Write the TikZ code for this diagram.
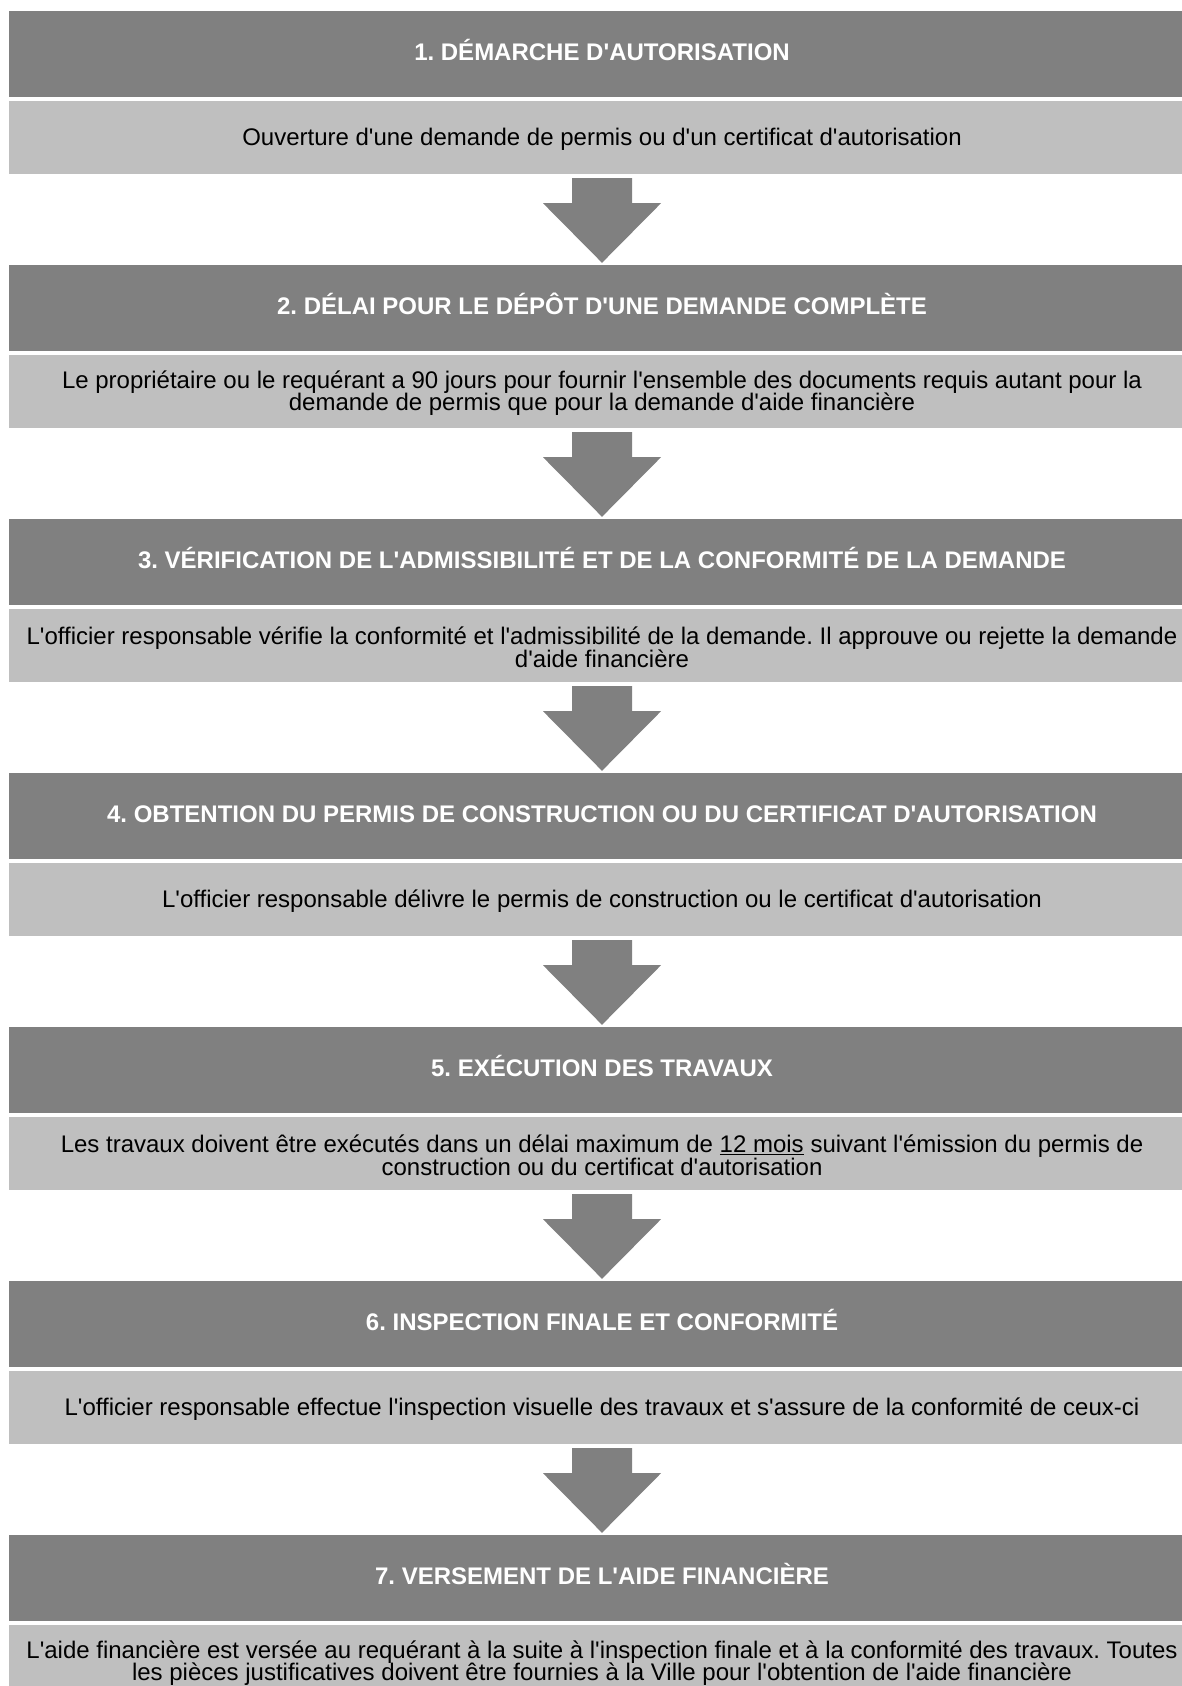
\documentclass[tikz,border=0pt]{standalone}
\usepackage{fontspec}
\setmainfont{Liberation Sans}[Ligatures=TeXOff]
\frenchspacing
\usetikzlibrary{calc}
\definecolor{hdrgray}{RGB}{128,128,128}
\definecolor{subgray}{RGB}{191,191,191}
\newcommand\hs{\rule{0pt}{21pt}}
\tikzset{
  hdr/.style={fill=hdrgray, draw=none, minimum width=1186pt, minimum height=86pt,
    inner sep=0pt, text=white, font=\fontsize{24}{23}\selectfont\bfseries,
    text height=17.2pt, text depth=4pt},
  sub/.style={fill=subgray, draw=none, minimum width=1186pt, minimum height=73pt,
    inner sep=0pt, text=black, align=center, font=\fontsize{24}{22.8}\selectfont},
  blockarrow/.style={fill=hdrgray, draw=none}
}
\newcommand\mkarrow[2]{%
  \fill[blockarrow] ($(#1.south)+(-30,4)$) -- ($(#1.south)+(30,4)$) -- ($(#1.south)+(30,29)$)
    -- ($(#1.south)+(59,29)$) -- ($(#2.north)+(0,-2)$) -- ($(#1.south)+(-59,29)$)
    -- ($(#1.south)+(-30,29)$) -- cycle;}
\begin{document}
\begin{tikzpicture}[x=1pt,y=-1pt]
\useasboundingbox[fill=white] (0,0) rectangle (1182,1686);
% block 1
\node[hdr] (h1) at (602,54) {1. DÉMARCHE D'AUTORISATION};
\node[sub] (s1) at (602,137.5) {\hs Ouverture d'une demande de permis ou d'un certificat d'autorisation};
% block 2
\node[hdr] (h2) at (602,308) {2. DÉLAI POUR LE DÉPÔT D'UNE DEMANDE COMPLÈTE};
\node[sub] (s2) at (602,391.5) {\hs Le propriétaire ou le requérant a 90 jours pour fournir l'ensemble des documents requis autant pour la\\demande de permis que pour la demande d'aide financière};
% block 3
\node[hdr] (h3) at (602,562) {3. VÉRIFICATION DE L'ADMISSIBILITÉ ET DE LA CONFORMITÉ DE LA DEMANDE};
\node[sub] (s3) at (602,645.5) {\hs L'officier responsable vérifie la conformité et l'admissibilité de la demande. Il approuve ou rejette la demande\\d'aide financière};
% block 4
\node[hdr] (h4) at (602,816) {4. OBTENTION DU PERMIS DE CONSTRUCTION OU DU CERTIFICAT D'AUTORISATION};
\node[sub] (s4) at (602,899.5) {\hs L'officier responsable délivre le permis de construction ou le certificat d'autorisation};
% block 5
\node[hdr] (h5) at (602,1070) {5. EXÉCUTION DES TRAVAUX};
\node[sub] (s5) at (602,1153.5) {\hs Les travaux doivent être exécutés dans un délai maximum de \underline{12 mois} suivant l'émission du permis de\\construction ou du certificat d'autorisation};
% block 6
\node[hdr] (h6) at (602,1324) {6. INSPECTION FINALE ET CONFORMITÉ};
\node[sub] (s6) at (602,1407.5) {\hs L'officier responsable effectue l'inspection visuelle des travaux et s'assure de la conformité de ceux-ci};
% block 7
\node[hdr] (h7) at (602,1578) {7. VERSEMENT DE L'AIDE FINANCIÈRE};
\node[sub] (s7) at (602,1661.5) {\hs L'aide financière est versée au requérant à la suite à l'inspection finale et à la conformité des travaux. Toutes\\les pièces justificatives doivent être fournies à la Ville pour l'obtention de l'aide financière};
% arrows
\mkarrow{s1}{h2}
\mkarrow{s2}{h3}
\mkarrow{s3}{h4}
\mkarrow{s4}{h5}
\mkarrow{s5}{h6}
\mkarrow{s6}{h7}
\end{tikzpicture}
\end{document}
